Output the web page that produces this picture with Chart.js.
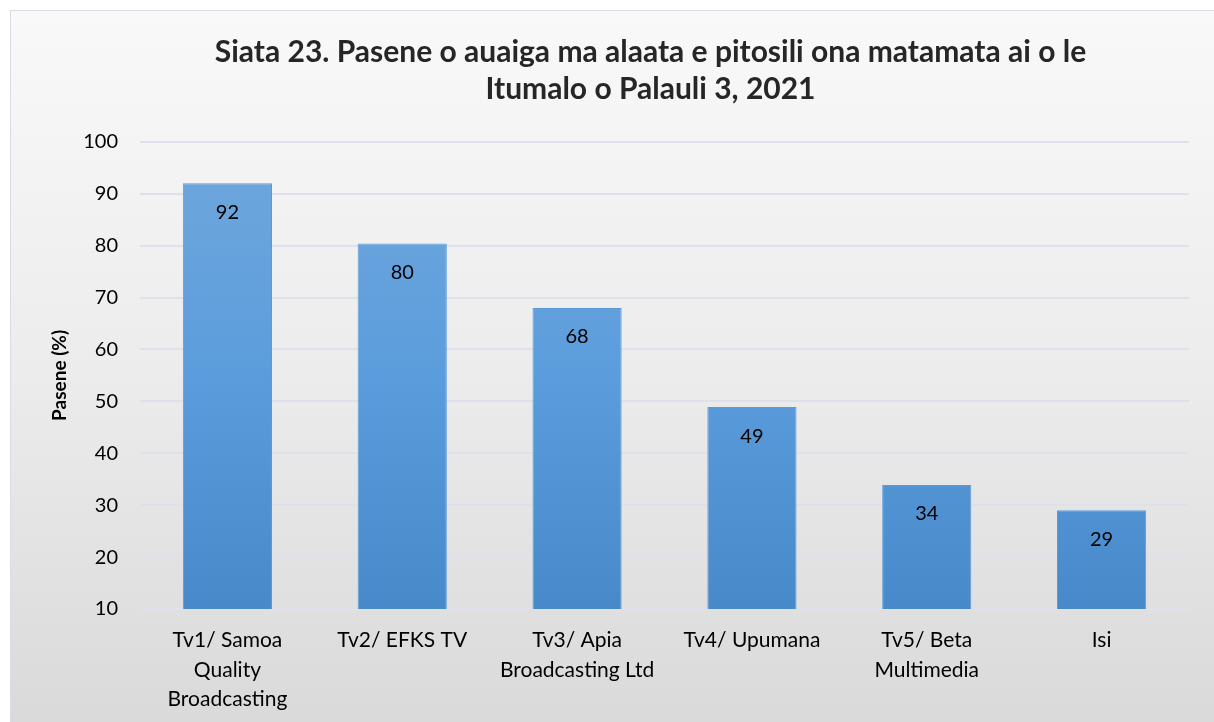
<!DOCTYPE html>
<html>
<head>
<meta charset="utf-8">
<script src="https://cdn.jsdelivr.net/npm/chart.js@4/dist/chart.umd.min.js"></script>
<style>
  body { margin: 0; background: #fff; }
  #frame {
    position: absolute; left: 10px; top: 10px; width: 1214px; height: 722px;
    border: 1px solid #d9dce3;
    background: linear-gradient(to bottom, #f9f9f9 0%, #ececec 50%, #d9d9d9 100%);
  }
  #wrap { position: absolute; left: 0; top: 0; width: 1214px; height: 722px; }
</style>
</head>
<body>
<div id="frame"></div>
<div id="wrap"><canvas id="chart"></canvas></div>
<script>
let categories = [
  ["Tv1/ Samoa", "Quality", "Broadcasting"],
  ["Tv2/ EFKS TV"],
  ["Tv3/ Apia", "Broadcasting Ltd"],
  ["Tv4/ Upumana"],
  ["Tv5/ Beta", "Multimedia"],
  ["Isi"]
];
let values = [92, 80.4, 68, 48.9, 33.9, 29];
let titleLines = ["Siata 23. Pasene o auaiga ma alaata e pitosili ona matamata ai o le", "Itumalo o Palauli 3, 2021"];
let yTitle = "Pasene (%)";

let fontFamily = "Lato, 'Open Sans', sans-serif";

// value labels inside bar top
let valueLabels = {
  id: "valueLabels",
  afterDatasetsDraw(chart) {
    let ctx = chart.ctx;
    let meta = chart.getDatasetMeta(0);
    ctx.save();
    ctx.font = "20px " + fontFamily;
    ctx.fillStyle = "#000";
    ctx.textAlign = "center";
    ctx.textBaseline = "middle";
    meta.data.forEach(function(bar, i) {
      ctx.fillText(Math.round(values[i]), bar.x, bar.y + 29);
    });
    ctx.restore();
  }
};

// title is centred a bit right of the canvas middle in the original
let shiftTitle = {
  id: "shiftTitle",
  afterLayout(chart) {
    chart.titleBlock.left += 51;
    chart.titleBlock.right += 51;
  }
};

function barFill(context) {
  let area = context.chart.chartArea;
  if (!area) return "#5b9bd5";
  let g = context.chart.ctx.createLinearGradient(0, area.top, 0, area.bottom);
  g.addColorStop(0, "#70a7dd");
  g.addColorStop(0.5, "#5b9ddc");
  g.addColorStop(1, "#4889c9");
  return g;
}

new Chart(document.getElementById("chart"), {
  type: "bar",
  data: {
    labels: categories,
    datasets: [{
      data: values,
      backgroundColor: barFill,
      borderColor: "#5b9bd5",
      borderWidth: 1,
      barPercentage: 0.51,
      categoryPercentage: 1
    }]
  },
  options: {
    responsive: true,
    maintainAspectRatio: false,
    animation: false,
    layout: { padding: { left: 10, right: 25, top: 0, bottom: 0 } },
    plugins: {
      legend: { display: false },
      tooltip: { enabled: false },
      title: {
        display: true,
        text: titleLines,
        color: "#262626",
        font: { family: fontFamily, size: 30, weight: "bold", lineHeight: 1.23 },
        padding: { top: 34, bottom: 34 }
      }
    },
    scales: {
      x: {
        grid: { display: false, drawTicks: false },
        border: { display: false },
        ticks: {
          color: "#000",
          font: { family: fontFamily, size: 21, lineHeight: 1.4 },
          padding: 17,
          maxRotation: 0,
          autoSkip: false
        },
        afterFit(scale) { scale.height = 113; }
      },
      y: {
        min: 10,
        max: 100,
        ticks: {
          stepSize: 10,
          color: "#000",
          font: { family: fontFamily, size: 20 },
          padding: 22
        },
        grid: { color: "#dde2ea", lineWidth: 2, drawTicks: false },
        border: { display: false },
        title: {
          display: true,
          text: yTitle,
          color: "#000",
          font: { family: fontFamily, size: 19, weight: "bold" },
          padding: { top: 38, bottom: 0 }
        },
        afterFit(scale) { scale.width = 130; }
      }
    }
  },
  plugins: [valueLabels, shiftTitle]
});
</script>
</body>
</html>
